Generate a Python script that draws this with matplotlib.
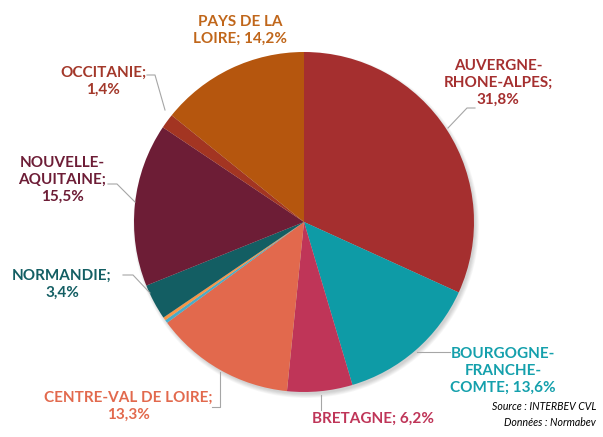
# Pie chart - répartition par région

import matplotlib.pyplot as plt
import matplotlib.patches as mpatches

regions = ["AUVERGNE-\nRHONE-ALPES;\n31,8%", "BOURGOGNE-\nFRANCHE-\nCOMTE; 13,6%", "BRETAGNE; 6,2%",
           "CENTRE-VAL DE LOIRE;\n13,3%", "", "", "NORMANDIE;\n3,4%", "NOUVELLE-\nAQUITAINE;\n15,5%",
           "OCCITANIE;\n1,4%", "PAYS DE LA\nLOIRE; 14,2%"]
values = [31.8, 13.6, 6.2, 13.3, 0.3, 0.3, 3.4, 15.5, 1.4, 14.2]
colors = ["#A52F2F", "#0E9BA6", "#BF3558", "#E2694D", "#4BACC6", "#F79646",
          "#135E63", "#6D1D36", "#A33522", "#B5560E"]
text_colors = ["#A52F2F", "#14A0AC", "#BF3558", "#E2694D", None, None,
               "#135E63", "#6D1D36", "#A3382A", "#C0661A"]

W, H = 603, 437
def fy(y):
    return H - y

fig = plt.figure(figsize=(6.03, 4.37), dpi=100)
ax = fig.add_axes([0, 0, 1, 1])

cx, cy, r = 304, fy(222), 170

# soft shadow
for i in range(6):
    ax.add_patch(mpatches.Circle((cx + 2, cy - 3), r + 3 - i * 0.8, color="#000000", alpha=0.03, lw=0))

ax.pie(values, colors=colors, startangle=90, counterclock=False, center=(cx, cy), radius=r,
       wedgeprops=dict(linewidth=0), frame=True)
ax.set_xlim(0, W)
ax.set_ylim(0, H)
ax.axis("off")

# label positions (pixels from top-left)
label_pos = {0: (498, 83), 1: (503, 371), 2: (373, 419), 3: (128, 406), 6: (62, 284),
             7: (62, 180), 8: (103, 81), 9: (240, 30)}
for i, (x, y) in label_pos.items():
    ax.text(x, fy(y), regions[i], ha="center", va="center", color=text_colors[i],
            fontsize=11, fontweight="bold", family="Lato", linespacing=1.25)

leaders = [
    [(475, 108), (467, 108), (448, 128)],
    [(450, 352), (417, 352)],
    [(321, 410), (321, 395)],
    [(212, 407), (220, 407), (220, 372)],
    [(123, 275), (133, 275), (150, 293)],
    [(108, 184), (117, 184), (135, 202)],
    [(147, 75), (155, 75), (165, 110)],
]
for pts in leaders:
    ax.plot([p[0] for p in pts], [fy(p[1]) for p in pts], color="#A6A6A6", lw=0.8)

ax.text(596, fy(407), "Source : INTERBEV CVL", ha="right", va="center", fontsize=7.6,
        style="italic", family="Lato", color="#000000")
ax.text(596, fy(422), "Données : Normabev", ha="right", va="center", fontsize=7.6,
        style="italic", family="Lato", color="#000000")

fig.savefig("out.png", dpi=100)
